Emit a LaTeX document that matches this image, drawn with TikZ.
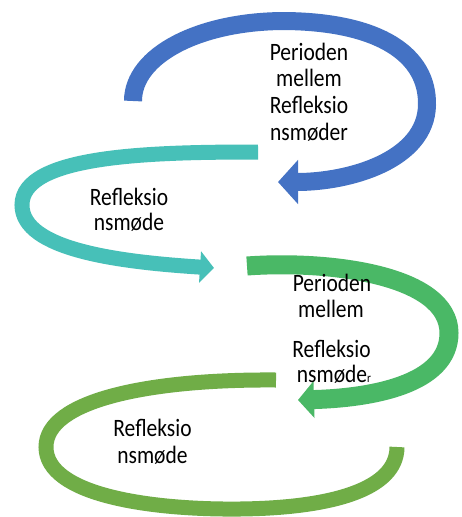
\documentclass[tikz,border=0pt]{standalone}
\usepackage{fontspec}
\newfontfamily\labfont[FakeStretch=0.86]{Carlito}
\usetikzlibrary{arrows.meta}
\definecolor{cblue}{HTML}{4472C4}
\definecolor{cteal}{HTML}{47C0B8}
\definecolor{cgreen}{HTML}{4AB866}
\definecolor{colive}{HTML}{70AD47}
\begin{document}
\begin{tikzpicture}[x=1pt,y=-1pt,
  lab/.style={font=\labfont\fontsize{25}{26.5}\selectfont, inner sep=0pt, anchor=base, text=black},
  band/.style={line width=#1, line cap=butt}]
\useasboundingbox[fill=white] (0,0) rectangle (461,517);
% named end points
\coordinate (b0) at (133,101);
\coordinate (b1) at (285,21);
\coordinate (b2) at (427,105);
\coordinate (bt) at (278,182);
\coordinate (t0) at (258,152);
\coordinate (t1) at (22,205);
\coordinate (tt) at (214,268);
\coordinate (g0) at (247,266);
\coordinate (g1) at (449,333);
\coordinate (gt) at (298,400);
\coordinate (o0) at (276,380);
\coordinate (o1) at (46,447);
\coordinate (o2) at (240,509);
\coordinate (o3) at (397,447);
% blue arrow
\draw[band=18pt, cblue, -{Triangle[length=20pt,width=43pt]}]
  (b0) .. controls (133,55) and (200,21) .. (b1)
       .. controls (380,22) and (428,55) .. (b2)
       .. controls (426,160) and (350,182) .. (bt);
% teal arrow
\draw[band=15pt, cteal, -{Triangle[length=14pt,width=31pt]}]
  (t0) .. controls (150,152) and (22,155) .. (t1)
       .. controls (22,250) and (120,262) .. (tt);
% green arrow
\draw[band=19pt, cgreen, -{Triangle[length=16pt,width=36pt]}]
  (g0) .. controls (330,260) and (449,275) .. (g1)
       .. controls (449,385) and (370,398) .. (gt);
% olive band
\draw[band=15pt, colive]
  (o0) .. controls (150,379) and (46,400) .. (o1)
       .. controls (46,495) and (150,510) .. (o2)
       .. controls (330,508) and (397,490) .. (o3);
% labels
\node[lab] (bl1) at (309,60) {Perioden};
\node[lab] (bl2) at (309,86.7) {mellem};
\node[lab] (bl3) at (309,113.3) {Refleksio};
\node[lab] (bl4) at (309,140) {nsmøder};
\node[lab] (tl1) at (129,205) {Refleksio};
\node[lab] (tl2) at (129,230.5) {nsmøde};
\node[lab] (gl1) at (332,291.7) {Perioden};
\node[lab] (gl2) at (331,317.7) {mellem};
\node[lab] (gl3) at (331.5,357.7) {Refleksio};
\node[lab] (gl4) at (334,382.3) {nsmøde{\fontsize{13}{13}\selectfont r}};
\node[lab] (ol1) at (152.5,436.7) {Refleksio};
\node[lab] (ol2) at (152.5,463.3) {nsmøde};
\end{tikzpicture}
\end{document}
